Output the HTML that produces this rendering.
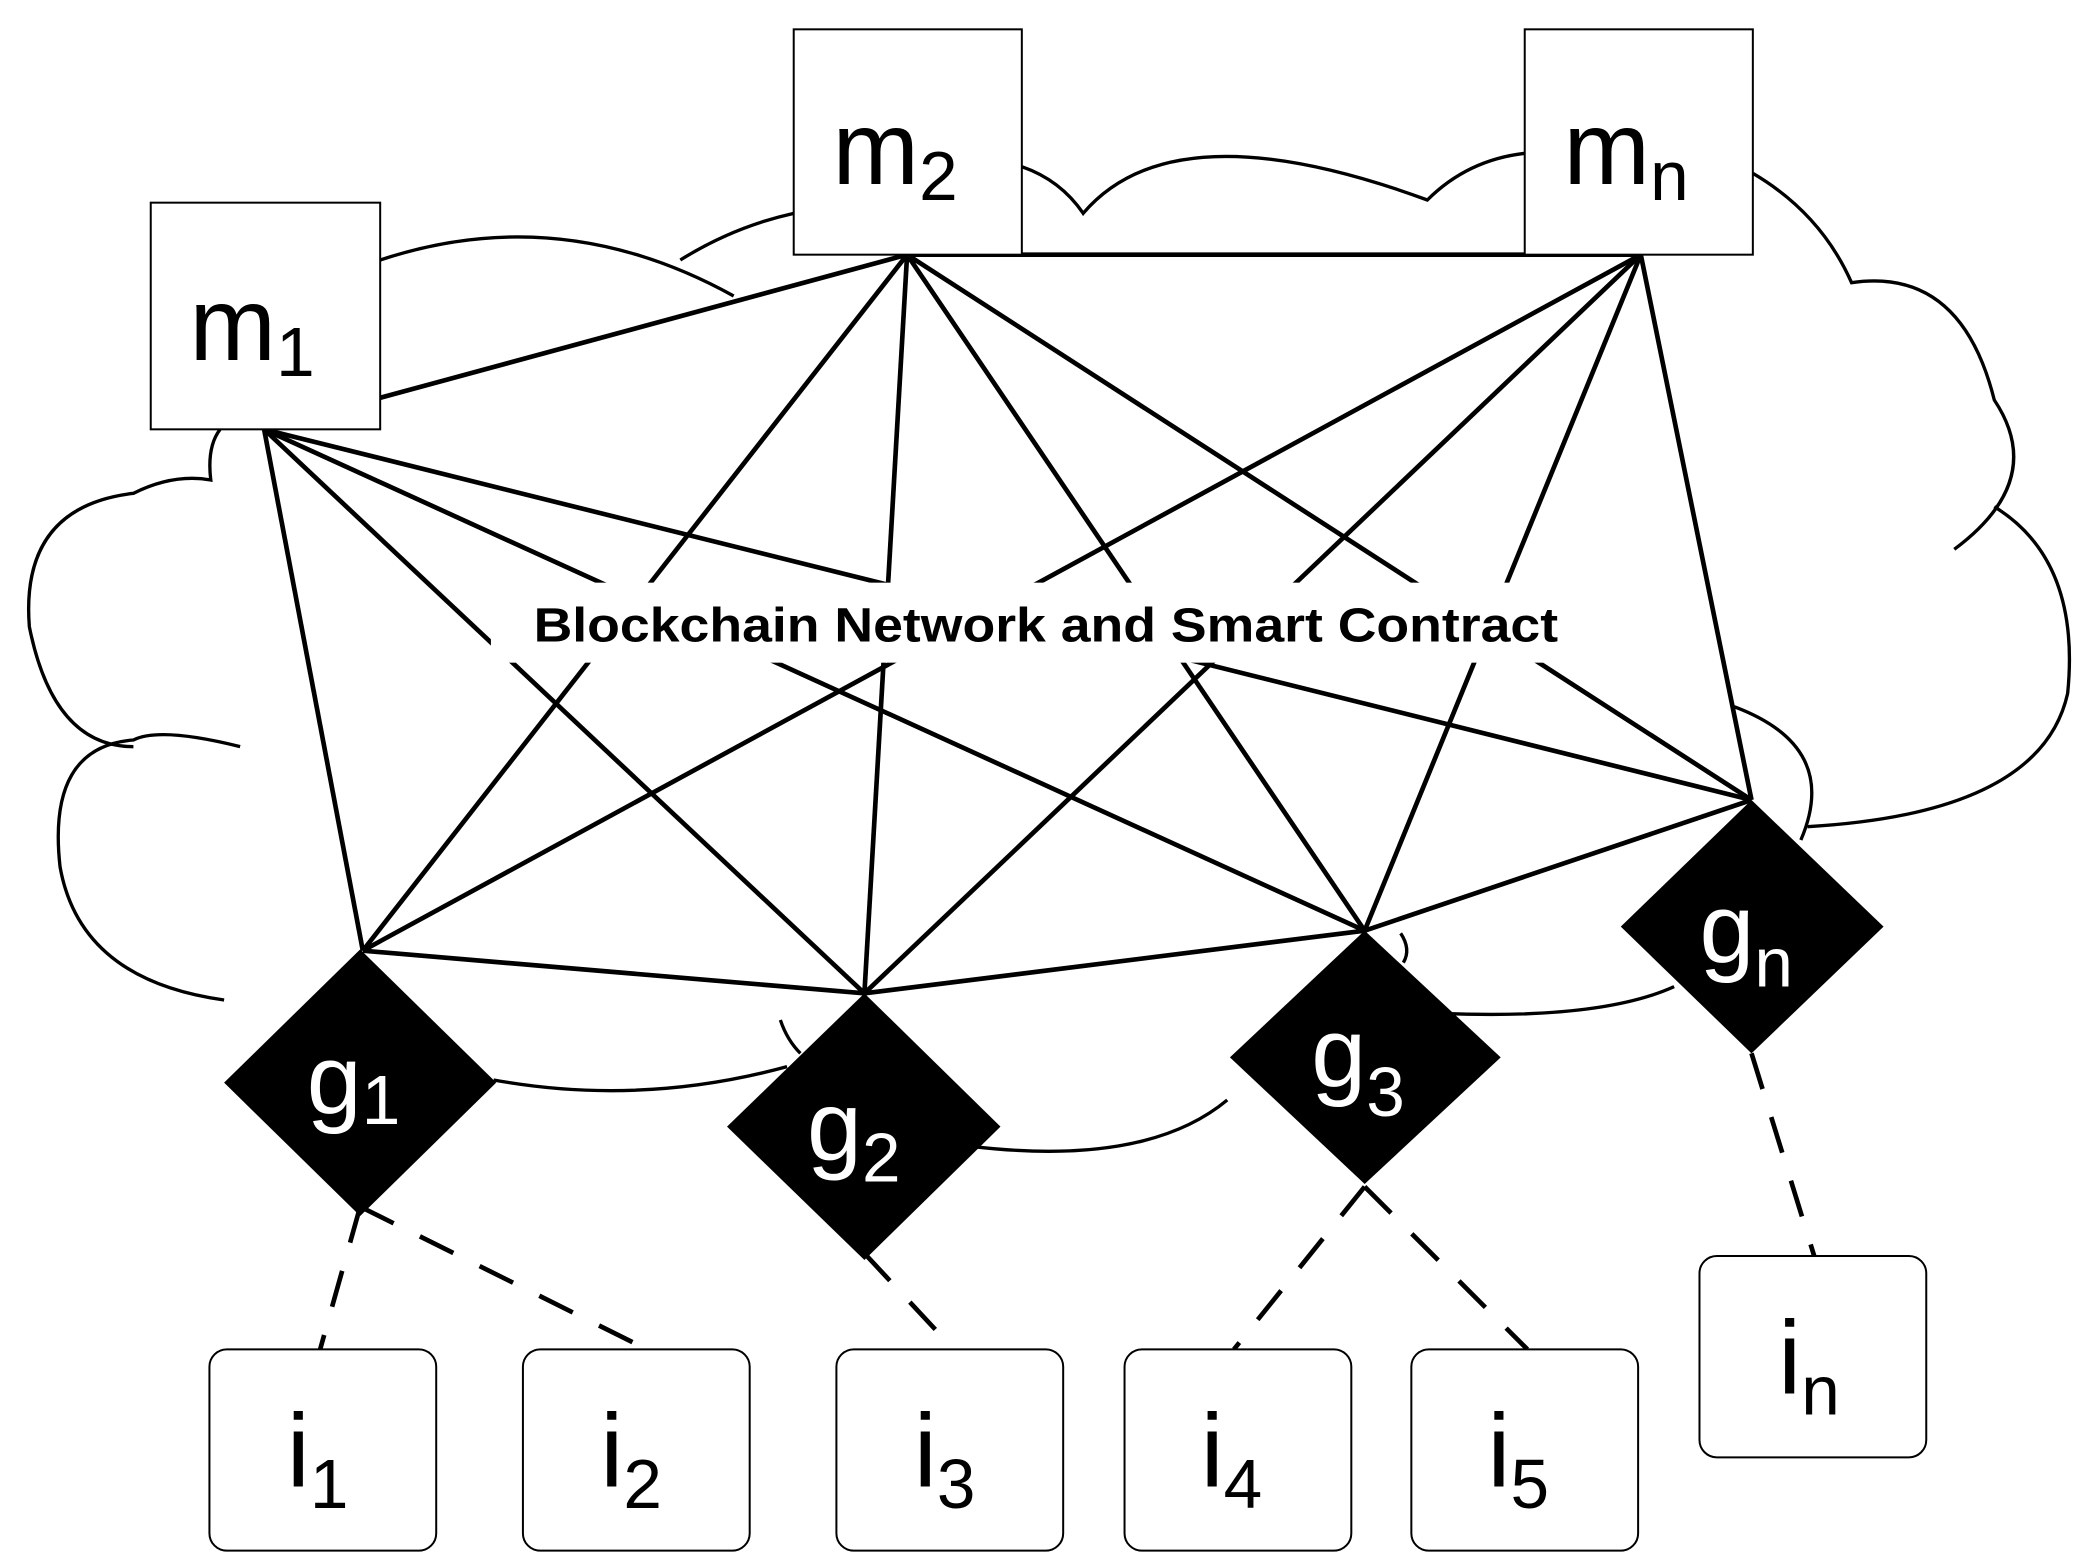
<!DOCTYPE html>
<html><head><meta charset="utf-8"><style>
html,body{margin:0;padding:0;background:#fff;}
svg{display:block;}
text{font-family:"Liberation Sans",sans-serif;}
</style></head><body>
<svg width="2081" height="1568" viewBox="0 0 1560 1176" preserveAspectRatio="none" xmlns="http://www.w3.org/2000/svg">
<g fill="none" stroke="#000" stroke-width="2.5">
<path d="M285,195 Q420,150 550,222"/>
<path d="M510,195 Q550,170 595,160"/>
<path d="M766,125 Q795,135 812,160 Q880,80 1070,150 Q1100,120 1143,115"/>
<path d="M1314,130 Q1365,160 1388,212 Q1470,200 1495,300 Q1535,360 1465,412"/>
<path d="M1495,380 Q1560,420 1550,520 Q1530,610 1355,620"/>
<path d="M1300,530 Q1380,560 1350,630"/>
<path d="M1255,740 Q1200,765 1080,760"/>
<path d="M1050,700 Q1058,712 1052,722"/>
<path d="M920,825 Q860,875 730,860"/>
<path d="M590,800 Q480,830 370,810"/>
<path d="M585,765 Q590,780 600,790"/>
<path d="M168,750 Q60,735 45,650 Q35,560 100,555 Q120,545 180,560"/>
<path d="M100,560 Q40,560 22,470 Q15,380 100,370 Q130,355 158,360 Q155,335 165,322"/>
</g>
<g stroke="#000" stroke-width="3.5" fill="none">
<line x1="680" y1="191" x2="1230" y2="191"/>
<line x1="198" y1="322" x2="680" y2="191"/>
<line x1="198" y1="322" x2="272" y2="713"/>
<line x1="198" y1="322" x2="648" y2="745"/>
<line x1="198" y1="322" x2="1023" y2="698"/>
<line x1="198" y1="322" x2="1313" y2="600"/>
<line x1="680" y1="191" x2="272" y2="713"/>
<line x1="680" y1="191" x2="648" y2="745"/>
<line x1="680" y1="191" x2="1023" y2="698"/>
<line x1="680" y1="191" x2="1313" y2="600"/>
<line x1="1230" y1="191" x2="272" y2="713"/>
<line x1="1230" y1="191" x2="648" y2="745"/>
<line x1="1230" y1="191" x2="1023" y2="698"/>
<line x1="1230" y1="191" x2="1313" y2="600"/>
<line x1="272" y1="713" x2="648" y2="745"/>
<line x1="648" y1="745" x2="1023" y2="698"/>
<line x1="1023" y1="698" x2="1313" y2="600"/>
</g>
<rect x="368" y="437" width="822" height="60" fill="#fff"/>
<text x="784" y="481" font-size="36" font-weight="bold" text-anchor="middle" textLength="768" lengthAdjust="spacingAndGlyphs">Blockchain Network and Smart Contract</text>
<g stroke="#000" stroke-width="3.5" stroke-dasharray="28,22" fill="none">
<line x1="270" y1="905" x2="240" y2="1012"/>
<line x1="270" y1="905" x2="485" y2="1012"/>
<line x1="648" y1="940" x2="715" y2="1012"/>
<line x1="1023" y1="890" x2="925" y2="1012"/>
<line x1="1023" y1="890" x2="1145" y2="1012"/>
<line x1="1313" y1="790" x2="1360" y2="942"/>
</g>
<g fill="#fff" stroke="#000" stroke-width="1.5">
<rect x="113" y="152" width="172" height="170"/>
<rect x="595" y="22" width="171" height="169"/>
<rect x="1143" y="22" width="171" height="169"/>
</g>
<text x="142" y="270" font-size="78">m<tspan font-size="52" dy="12">1</tspan></text>
<text x="624" y="138" font-size="78">m<tspan font-size="52" dy="12">2</tspan></text>
<text x="1172" y="138" font-size="78">m<tspan font-size="52" dy="12">n</tspan></text>
<g fill="#000">
<polygon points="270,712 372,812 270,912 168,812"/>
<polygon points="648,745 750,845 648,945 545,845"/>
<polygon points="1023,698 1125,793 1023,888 922,793"/>
<polygon points="1313,600 1412,695 1313,790 1215,695"/>
</g>
<g fill="#fff" font-size="74">
<text x="230" y="835">g<tspan font-size="52" dy="8">1</tspan></text>
<text x="605" y="870">g<tspan font-size="52" dy="16">2</tspan></text>
<text x="983" y="815">g<tspan font-size="52" dy="22">3</tspan></text>
<text x="1274" y="722">g<tspan font-size="52" dy="18">n</tspan></text>
</g>
<g fill="#fff" stroke="#000" stroke-width="1.5">
<rect x="157" y="1012" width="170" height="151" rx="13"/>
<rect x="392" y="1012" width="170" height="151" rx="13"/>
<rect x="627" y="1012" width="170" height="151" rx="13"/>
<rect x="843" y="1012" width="170" height="151" rx="13"/>
<rect x="1058" y="1012" width="170" height="151" rx="13"/>
<rect x="1274" y="942" width="170" height="151" rx="13"/>
</g>
<g font-size="78">
<text x="215" y="1115">i<tspan font-size="52" dy="16">1</tspan></text>
<text x="450" y="1115">i<tspan font-size="52" dy="16">2</tspan></text>
<text x="685" y="1115">i<tspan font-size="52" dy="16">3</tspan></text>
<text x="900" y="1115">i<tspan font-size="52" dy="16">4</tspan></text>
<text x="1115" y="1115">i<tspan font-size="52" dy="16">5</tspan></text>
<text x="1333" y="1045">i<tspan font-size="52" dy="16">n</tspan></text>
</g>
</svg>
</body></html>
